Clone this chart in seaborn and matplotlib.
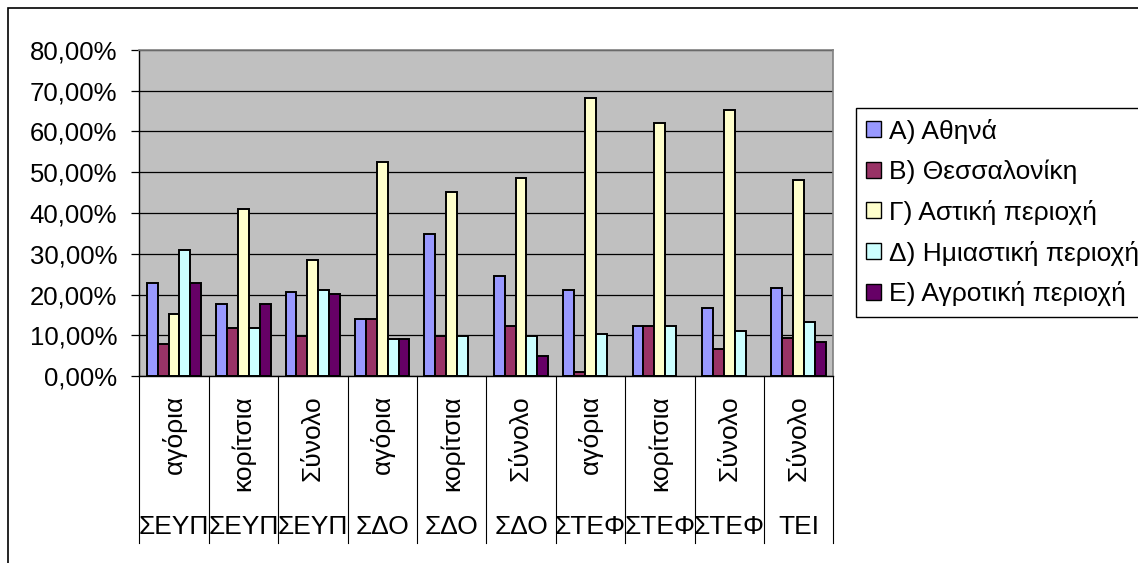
import numpy as np
import pandas as pd
import matplotlib
matplotlib.use('Agg')
import matplotlib.pyplot as plt
from matplotlib import ticker as mtick
from matplotlib.patches import Patch, Rectangle
import seaborn as sns

#category labels (two levels)
schools = ['ΣΕΥΠ', 'ΣΕΥΠ', 'ΣΕΥΠ', 'ΣΔΟ', 'ΣΔΟ', 'ΣΔΟ',
           'ΣΤΕΦ', 'ΣΤΕΦ', 'ΣΤΕΦ', 'ΤΕΙ']
genders = ['αγόρια', 'κορίτσια', 'Σύνολο', 'αγόρια', 'κορίτσια', 'Σύνολο',
           'αγόρια', 'κορίτσια', 'Σύνολο', 'Σύνολο']

series_names = ['Α) Αθηνά', 'Β) Θεσσαλονίκη', 'Γ) Αστική περιοχή',
                'Δ) Ημιαστική περιοχή', 'Ε) Αγροτική περιοχή']

#values
athina = [0.229, 0.176, 0.205, 0.141, 0.348, 0.245, 0.210, 0.123, 0.167, 0.216]
thessaloniki = [0.079, 0.118, 0.098, 0.141, 0.098, 0.123, 0.010, 0.123, 0.067, 0.093]
astiki = [0.151, 0.411, 0.285, 0.525, 0.451, 0.486, 0.682, 0.622, 0.653, 0.481]
imiastiki = [0.308, 0.118, 0.211, 0.092, 0.098, 0.098, 0.102, 0.123, 0.111, 0.132]
agrotiki = [0.229, 0.176, 0.201, 0.092, 0.0, 0.049, 0.0, 0.0, 0.0, 0.084]

colors = ['#9999FF', '#993366', '#FFFFCC', '#CCFFFF', '#660066']

plt.rcParams['font.family'] = ['Liberation Sans', 'DejaVu Sans']

#long table for seaborn
keys = [f'{s}|{g}|{i}' for i, (s, g) in enumerate(zip(schools, genders))]
all_vals = [athina, thessaloniki, astiki, imiastiki, agrotiki]
rows = []
for name, vals in zip(series_names, all_vals):
    for k, v in zip(keys, vals):
        rows.append({'key': k, 'series': name, 'value': v})
df = pd.DataFrame(rows)

fig = plt.figure(figsize=(11.38, 5.63), dpi=100)
ax = fig.add_axes([139.3/1138, 1-376/563, (833.3-139.3)/1138, (376-50)/563])
ax.set_facecolor('#C0C0C0')

sns.barplot(data=df, x='key', y='value', hue='series', order=keys,
            hue_order=series_names, palette=colors, saturation=1,
            edgecolor='black', linewidth=1.4, width=0.785, gap=0,
            errorbar=None, legend=False, ax=ax)

#zero bars: no outline sitting on the axis
for p in ax.patches:
    if p.get_height() == 0:
        p.set_linewidth(0)

ax.set_ylim(0, 0.8)
ax.set_xlim(-0.5, len(keys)-0.5)
ax.set_yticks(np.arange(0, 0.81, 0.1))
ax.yaxis.set_major_formatter(mtick.FuncFormatter(
    lambda v, p: f'{v*100:.2f}%'.replace('.', ',')))
ax.grid(axis='y', color='black', linewidth=0.9)
ax.set_axisbelow(True)
ax.tick_params(axis='y', direction='out', length=6, width=0.9,
               color='black', labelsize=18.5, pad=10)
ax.tick_params(axis='x', length=0, labelbottom=False)
ax.set_xlabel('')
ax.set_ylabel('')
for side in ['top', 'right']:
    ax.spines[side].set_color('#808080')
    ax.spines[side].set_linewidth(1.2)
for side in ['left', 'bottom']:
    ax.spines[side].set_color('black')
    ax.spines[side].set_linewidth(1.0)

#two-level category labels
tr = ax.get_xaxis_transform()
for i, (s, g) in enumerate(zip(schools, genders)):
    ax.text(i, -19/326, g, rotation=90, ha='center', va='top',
            fontsize=19, transform=tr, clip_on=False)
    ax.text(i, -151/326, s, ha='center', va='center',
            fontsize=19, transform=tr, clip_on=False)
for i in range(len(keys)+1):
    ax.plot([i-0.5, i-0.5], [0, -167/326], color='black', linewidth=0.8,
            transform=tr, clip_on=False)

#legend
handles = [Patch(facecolor=c, edgecolor='black', linewidth=1.0) for c in colors]
leg = fig.legend(handles, series_names, loc='upper left',
                 bbox_to_anchor=(855.7/1138, 1-108/563), borderaxespad=0,
                 frameon=True, fancybox=False, edgecolor='black',
                 fontsize=19, borderpad=0.4, handlelength=0.55,
                 handleheight=0.55, handletextpad=0.3, labelspacing=0.6)
leg.get_frame().set_linewidth(1.0)
leg.get_frame().set_alpha(1)

#outer chart border
fig.add_artist(Rectangle((8/1138, -0.2), 1.2, 1.2 - 8/563, fill=False,
                         edgecolor='black', linewidth=1.2,
                         transform=fig.transFigure))

fig.savefig('out.png', dpi=100)
